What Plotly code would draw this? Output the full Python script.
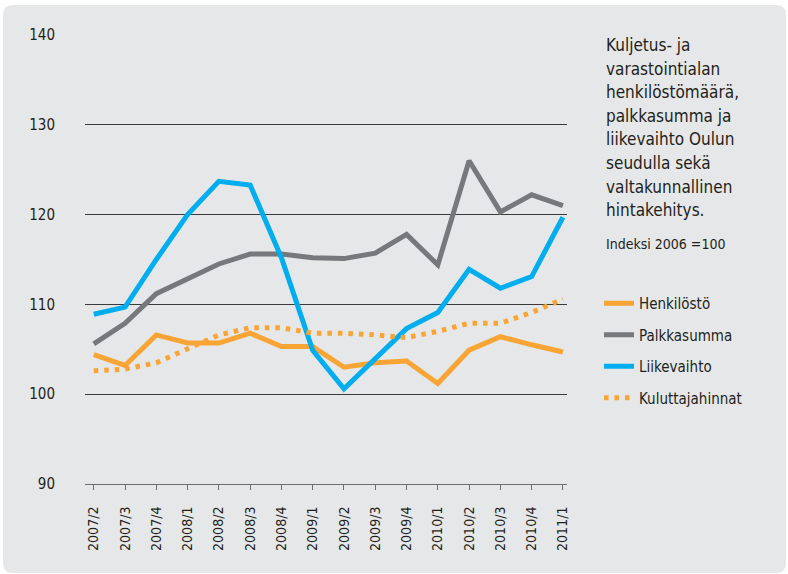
import plotly.graph_objects as go

# Quarterly index values, 2006 = 100
quarters = ["2007/2", "2007/3", "2007/4", "2008/1", "2008/2", "2008/3", "2008/4",
            "2009/1", "2009/2", "2009/3", "2009/4", "2010/1", "2010/2", "2010/3",
            "2010/4", "2011/1"]
henkilosto = [104.4, 103.2, 106.6, 105.7, 105.7, 106.8, 105.3, 105.3,
              103.0, 103.5, 103.7, 101.2, 104.9, 106.4, 105.5, 104.7]
palkkasumma = [105.6, 107.9, 111.2, 112.9, 114.5, 115.6, 115.6, 115.2,
               115.1, 115.7, 117.8, 114.4, 126.0, 120.3, 122.2, 121.0]
liikevaihto = [108.9, 109.7, 115.0, 120.0, 123.7, 123.3, 115.2, 104.9,
               100.6, 104.0, 107.3, 109.1, 113.9, 111.8, 113.1, 119.7]
kuluttajahinnat = [102.6, 102.8, 103.5, 105.1, 106.6, 107.4, 107.4, 106.8,
                   106.8, 106.6, 106.3, 107.0, 107.9, 107.9, 109.1, 110.6]

y_ticks = [90, 100, 110, 120, 130, 140]

title_lines = ["Kuljetus- ja", "varastointialan", "henkilöstömäärä,",
               "palkkasumma ja", "liikevaihto Oulun", "seudulla sekä",
               "valtakunnallinen", "hintakehitys."]
subtitle = "Indeksi 2006 =100"

ORANGE = "#f8a535"
GREY = "#77787b"
BLUE = "#00aeef"
BG = "#e6e7e8"
TEXT = "#231f20"
FONT = "DejaVu Sans Condensed, Liberation Sans Narrow, Arial Narrow, sans-serif"

W, H = 788, 574
L, R, T, B = 85, 567, 35, 484


def px(x):
    return (x - L) / (R - L)


def py(y):
    return (B - y) / (B - T)


fig = go.Figure()

series = [
    ("Henkilöstö", henkilosto, dict(color=ORANGE, width=5)),
    ("Palkkasumma", palkkasumma, dict(color=GREY, width=5)),
    ("Liikevaihto", liikevaihto, dict(color=BLUE, width=5)),
    ("Kuluttajahinnat", kuluttajahinnat, dict(color=ORANGE, width=5, dash="4.5px,6px")),
]
for i, (name, vals, line) in enumerate(series):
    fig.add_trace(go.Scatter(
        x=quarters, y=vals, name=name, mode="lines", line=line,
        legendgroup=f"g{i}",
    ))

# rounded grey card behind everything
x0, y0, x1, y1, r = 3, 5, 786, 573, 10
path = (
    f"M {px(x0 + r)},{py(y0)} L {px(x1 - r)},{py(y0)} "
    f"Q {px(x1)},{py(y0)} {px(x1)},{py(y0 + r)} "
    f"L {px(x1)},{py(y1 - r)} Q {px(x1)},{py(y1)} {px(x1 - r)},{py(y1)} "
    f"L {px(x0 + r)},{py(y1)} Q {px(x0)},{py(y1)} {px(x0)},{py(y1 - r)} "
    f"L {px(x0)},{py(y0 + r)} Q {px(x0)},{py(y0)} {px(x0 + r)},{py(y0)} Z"
)
fig.add_shape(type="path", path=path, xref="paper", yref="paper",
              fillcolor=BG, line=dict(width=0), layer="below")

annotations = []
line_gap = 23.6
for k, txt in enumerate(title_lines):
    annotations.append(dict(
        text=txt, x=px(604), y=py(45 + k * line_gap), xref="paper", yref="paper",
        xanchor="left", yanchor="middle", showarrow=False,
        font=dict(family=FONT, size=17, color=TEXT),
    ))
annotations.append(dict(
    text=subtitle, x=px(604), y=py(244), xref="paper", yref="paper",
    xanchor="left", yanchor="middle", showarrow=False,
    font=dict(family=FONT, size=14, color=TEXT),
))

fig.update_layout(
    width=W, height=H,
    margin=dict(l=L, r=W - R, t=T, b=H - B),
    paper_bgcolor="white",
    plot_bgcolor="rgba(0,0,0,0)",
    font=dict(family=FONT, size=15, color=TEXT),
    annotations=annotations,
    showlegend=True,
    legend=dict(
        x=px(599), y=py(287), xanchor="left", yanchor="top",
        bgcolor="rgba(0,0,0,0)", borderwidth=0,
        font=dict(family=FONT, size=15, color=TEXT),
        itemwidth=30, tracegroupgap=9, traceorder="grouped",
    ),
)

fig.update_xaxes(
    type="category", range=[-0.28, 15.13],
    showgrid=False, showline=True, linecolor="#6d6e70", linewidth=1,
    ticks="outside", ticklen=5, tickcolor="#6d6e70", tickwidth=1,
    tickangle=-90, tickfont=dict(family=FONT, size=14, color=TEXT),
    ticklabelstandoff=11,
)
fig.update_yaxes(
    range=[90, 140], tickvals=y_ticks, showgrid=True,
    gridcolor="#3a3a3a", gridwidth=1, zeroline=False, showline=False,
    ticks="", tickfont=dict(family=FONT, size=15, color=TEXT),
    ticklabelstandoff=29,
)

fig.write_html("out.html")
